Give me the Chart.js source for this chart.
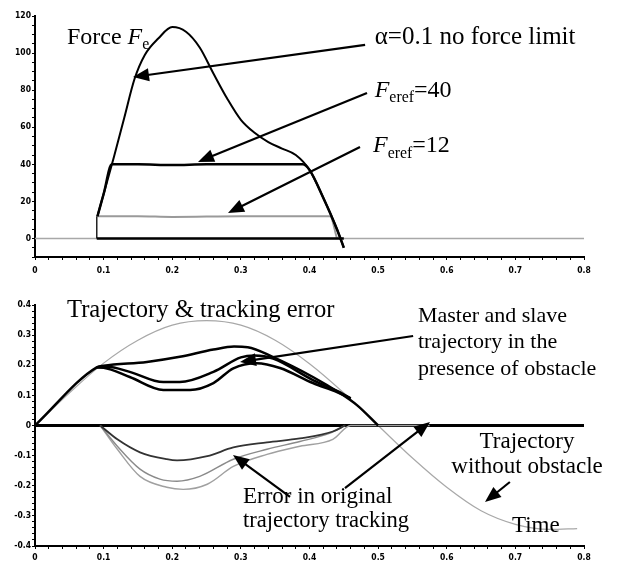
<!DOCTYPE html>
<html>
<head>
<meta charset="utf-8">
<script src="https://cdn.jsdelivr.net/npm/chart.js@4"></script>
<style>
  body { margin: 0; background: #fff; }
  #wrap { position: relative; width: 617px; height: 564px; }
  canvas { position: absolute; left: 0; }
  #forceChart { top: 0; }
  #trajChart { top: 282px; }
</style>
</head>
<body>
<div id="wrap">
  <canvas id="forceChart" width="617" height="282"></canvas>
  <canvas id="trajChart" width="617" height="282"></canvas>
</div>
<script>
// ---- force plot data ----
const noLimitX = [0.091, 0.10, 0.115, 0.13, 0.145, 0.16, 0.18, 0.20, 0.22, 0.24, 0.26, 0.28, 0.30, 0.32, 0.34, 0.36, 0.38, 0.40, 0.42, 0.44, 0.45];
const noLimitF = [12, 24, 44, 65, 86, 99, 108, 114, 111.5, 103, 89, 75.5, 64, 57, 52, 48.5, 45, 37, 22, 5, -5];

const limit40X = [0.091, 0.10, 0.112, 0.15, 0.20, 0.25, 0.30, 0.35, 0.39, 0.40, 0.42, 0.44, 0.45];
const limit40F = [12, 24, 40, 40, 39.6, 40, 40, 40, 40, 37, 22, 5, -5];

const limit12X = [0.091, 0.15, 0.20, 0.30, 0.43, 0.44];
const limit12F = [12, 12, 11.6, 12, 12, 0];

const jumpX = [0.09, 0.09];
const jumpF = [0, 12];

const contactX = [0.09, 0.45];
const contactF = [0, 0];

const baseX = [0, 0.8];
const baseF = [0, 0];

// ---- trajectory plot data ----
const freeX = [0, 0.05, 0.10, 0.15, 0.20, 0.25, 0.30, 0.35, 0.40, 0.45, 0.50, 0.55, 0.60, 0.65, 0.70, 0.75, 0.79];
const freeY = [0, 0.108, 0.207, 0.283, 0.333, 0.348, 0.333, 0.283, 0.205, 0.108, 0, -0.108, -0.205, -0.283, -0.328, -0.345, -0.342];

const upperX = [0, 0.09, 0.10, 0.163, 0.211, 0.26, 0.29, 0.31, 0.347, 0.405, 0.444, 0.47, 0.50];
const upperY = [0, 0.193, 0.198, 0.211, 0.228, 0.252, 0.262, 0.26, 0.227, 0.161, 0.108, 0.066, 0];

const middleX = [0.09, 0.105, 0.138, 0.187, 0.211, 0.26, 0.30, 0.32, 0.347, 0.405, 0.444, 0.46];
const middleY = [0.193, 0.195, 0.178, 0.144, 0.144, 0.178, 0.226, 0.232, 0.222, 0.151, 0.111, 0.09];

const lowerX = [0.09, 0.10, 0.138, 0.187, 0.226, 0.26, 0.289, 0.323, 0.357, 0.405, 0.44, 0.46];
const lowerY = [0.193, 0.192, 0.161, 0.118, 0.118, 0.141, 0.19, 0.207, 0.191, 0.141, 0.111, 0.09];

const zeroX = [0, 0.8];
const zeroY = [0, 0];

const err1X = [0.095, 0.12, 0.153, 0.192, 0.207, 0.251, 0.289, 0.338, 0.386, 0.434, 0.452];
const err1Y = [0, -0.046, -0.089, -0.112, -0.116, -0.102, -0.073, -0.056, -0.043, -0.02, 0];

const err2X = [0.095, 0.12, 0.153, 0.182, 0.207, 0.24, 0.289, 0.338, 0.386, 0.43, 0.452];
const err2Y = [0, -0.069, -0.145, -0.178, -0.185, -0.169, -0.112, -0.079, -0.053, -0.025, 0];

const err3X = [0.095, 0.12, 0.153, 0.192, 0.216, 0.251, 0.289, 0.338, 0.386, 0.434, 0.46, 0.575];
const err3Y = [0, -0.079, -0.169, -0.205, -0.212, -0.195, -0.136, -0.096, -0.069, -0.046, 0, 0];

const xTicksMajor = [0, 0.1, 0.2, 0.3, 0.4, 0.5, 0.6, 0.7, 0.8];

const serif = '"Liberation Serif", "Times New Roman", serif';
const tickFont = { family: '"DejaVu Sans Condensed", "Liberation Sans Narrow", sans-serif', size: 8.5, weight: 'bold' };

function pts(xs, ys) {
    return xs.map((x, i) => ({ x: x, y: ys[i] }));
}

function line(xs, ys, color, width, straight) {
    const ds = {
        data: pts(xs, ys),
        borderColor: color,
        borderWidth: width,
        pointRadius: 0,
        fill: false,
        tension: 0
    };
    if (!straight) ds.cubicInterpolationMode = "monotone";
    return ds;
}

function isMajor(v, step) {
    const r = v / step;
    return Math.abs(r - Math.round(r)) < 1e-6;
}

function drawArrow(ctx, x1, y1, x2, y2) {
    const ang = Math.atan2(y2 - y1, x2 - x1);
    const len = 16, half = 6.5;
    ctx.save();
    ctx.strokeStyle = "#000";
    ctx.fillStyle = "#000";
    ctx.lineWidth = 2.2;
    ctx.beginPath();
    ctx.moveTo(x1, y1);
    ctx.lineTo(x2 - Math.cos(ang) * len * 0.8, y2 - Math.sin(ang) * len * 0.8);
    ctx.stroke();
    ctx.beginPath();
    ctx.moveTo(x2, y2);
    ctx.lineTo(x2 - Math.cos(ang) * len + Math.sin(ang) * half, y2 - Math.sin(ang) * len - Math.cos(ang) * half);
    ctx.lineTo(x2 - Math.cos(ang) * len - Math.sin(ang) * half, y2 - Math.sin(ang) * len + Math.cos(ang) * half);
    ctx.closePath();
    ctx.fill();
    ctx.restore();
}

function partFont(p, size) {
    if (p[1] === "sub") return (size * 0.66) + "px " + serif;
    if (p[1] === "italic") return "italic " + size + "px " + serif;
    return size + "px " + serif;
}

function drawRich(ctx, x, y, parts, size, align) {
    ctx.save();
    ctx.fillStyle = "#000";
    ctx.textBaseline = "alphabetic";
    ctx.textAlign = "left";
    let total = 0;
    parts.forEach(p => { ctx.font = partFont(p, size); total += ctx.measureText(p[0]).width; });
    let cx = align === "center" ? x - total / 2 : x;
    parts.forEach(p => {
        ctx.font = partFont(p, size);
        const dy = p[1] === "sub" ? size * 0.22 : 0;
        ctx.fillText(p[0], cx, y + dy);
        cx += ctx.measureText(p[0]).width;
    });
    ctx.restore();
}

const annotate = {
    id: "annotate",
    afterDatasetsDraw(chart, args, opts) {
        const ctx = chart.ctx;
        const xs = chart.scales.x, ys = chart.scales.y;
        (opts.arrows || []).forEach(a => {
            drawArrow(ctx, xs.getPixelForValue(a.from[0]), ys.getPixelForValue(a.from[1]),
                xs.getPixelForValue(a.to[0]), ys.getPixelForValue(a.to[1]));
        });
        (opts.labels || []).forEach(l => {
            drawRich(ctx, xs.getPixelForValue(l.at[0]), ys.getPixelForValue(l.at[1]), l.parts, l.size || 24, l.align);
        });
    }
};

function axes(yMin, yMax, yStep, yMajor, xHeight, xPad, fmtY) {
    return {
        x: {
            type: "linear", min: 0, max: 0.8,
            afterFit: s => { s.height = xHeight; },
            grid: { drawOnChartArea: false, drawTicks: true, tickLength: 3, tickColor: "#000", tickWidth: 1 },
            border: { display: true, color: "#000", width: 2 },
            ticks: {
                stepSize: 0.02, maxTicksLimit: 100, autoSkip: false, maxRotation: 0, padding: xPad,
                color: "#000", font: tickFont,
                callback: v => xTicksMajor.some(t => Math.abs(t - v) < 1e-6) ? (v === 0 ? "0" : v.toFixed(1)) : ""
            }
        },
        y: {
            type: "linear", min: yMin, max: yMax,
            afterFit: s => { s.width = 35; },
            grid: { drawOnChartArea: false, drawTicks: true, tickLength: 3, tickColor: "#000", tickWidth: 1 },
            border: { display: true, color: "#000", width: 2 },
            ticks: {
                stepSize: yStep, maxTicksLimit: 100, autoSkip: false, padding: 1,
                color: "#000", font: tickFont,
                callback: v => isMajor(v, yMajor) ? fmtY(v) : ""
            }
        }
    };
}

const forceChart = new Chart(document.getElementById("forceChart"), {
    type: "line",
    data: {
        datasets: [
            line(noLimitX, noLimitF, "#000", 2),
            line(limit40X, limit40F, "#000", 2.5),
            line(contactX, contactF, "#000", 2.5, true),
            line(jumpX, jumpF, "#222", 1.5, true),
            line(limit12X, limit12F, "#9a9a9a", 2),
            line(baseX, baseF, "#a8a8a8", 1.5, true)
        ]
    },
    options: {
        responsive: false,
        animation: false,
        layout: { padding: { top: 16, right: 33, bottom: 0, left: 0 } },
        plugins: {
            legend: { display: false },
            tooltip: { enabled: false },
            annotate: {
                arrows: [
                    { from: [0.481, 104.4], to: [0.1428, 87.1] },
                    { from: [0.4838, 78.5], to: [0.2375, 41.3] },
                    { from: [0.4736, 49.3], to: [0.2812, 13.7] }
                ],
                labels: [
                    { at: [0.0466, 105], parts: [["Force ", ""], ["F", "italic"], ["e", "sub"]] },
                    { at: [0.495, 105], parts: [["α=0.1 no force limit", ""]], size: 25 },
                    { at: [0.495, 76.5], parts: [["F", "italic"], ["eref", "sub"], ["=40", ""]] },
                    { at: [0.4925, 46.4], parts: [["F", "italic"], ["eref", "sub"], ["=12", ""]] }
                ]
            }
        },
        scales: axes(-10, 120, 5, 20, 25, 6, v => String(v))
    },
    plugins: [annotate]
});

const trajChart = new Chart(document.getElementById("trajChart"), {
    type: "line",
    data: {
        datasets: [
            line(upperX, upperY, "#000", 2.5),
            line(middleX, middleY, "#000", 2.5),
            line(lowerX, lowerY, "#000", 2.5),
            line(err1X, err1Y, "#333", 1.8),
            line(err2X, err2Y, "#8a8a8a", 1.4),
            line(err3X, err3Y, "#a0a0a0", 1.4),
            line(zeroX, zeroY, "#000", 3, true),
            line(freeX, freeY, "#a8a8a8", 1.2)
        ]
    },
    options: {
        responsive: false,
        animation: false,
        layout: { padding: { top: 23, right: 33, bottom: 0, left: 0 } },
        plugins: {
            legend: { display: false },
            tooltip: { enabled: false },
            annotate: {
                arrows: [
                    { from: [0.551, 0.297], to: [0.2987, 0.2108] },
                    { from: [0.4517, -0.2075], to: [0.5756, 0.0116] },
                    { from: [0.3716, -0.2373], to: [0.2885, -0.098] },
                    { from: [0.692, -0.1876], to: [0.6557, -0.254] }
                ],
                labels: [
                    { at: [0.0466, 0.36], parts: [["Trajectory & tracking error", ""]], size: 24.6 },
                    { at: [0.558, 0.3436], parts: [["Master and slave", ""]], size: 22 },
                    { at: [0.558, 0.2573], parts: [["trajectory in the", ""]], size: 22 },
                    { at: [0.558, 0.1676], parts: [["presence of obstacle", ""]], size: 22 },
                    { at: [0.717, -0.0747], parts: [["Trajectory", ""]], size: 23, align: "center" },
                    { at: [0.717, -0.1577], parts: [["without obstacle", ""]], size: 23, align: "center" },
                    { at: [0.303, -0.257], parts: [["Error in original", ""]], size: 23 },
                    { at: [0.303, -0.337], parts: [["trajectory tracking", ""]], size: 22.6 },
                    { at: [0.695, -0.3535], parts: [["Time", ""]], size: 23 }
                ]
            }
        },
        scales: axes(-0.4, 0.4, 0.02, 0.1, 18, 4, v => v === 0 ? "0" : v.toFixed(1))
    },
    plugins: [annotate]
});
</script>
</body>
</html>
